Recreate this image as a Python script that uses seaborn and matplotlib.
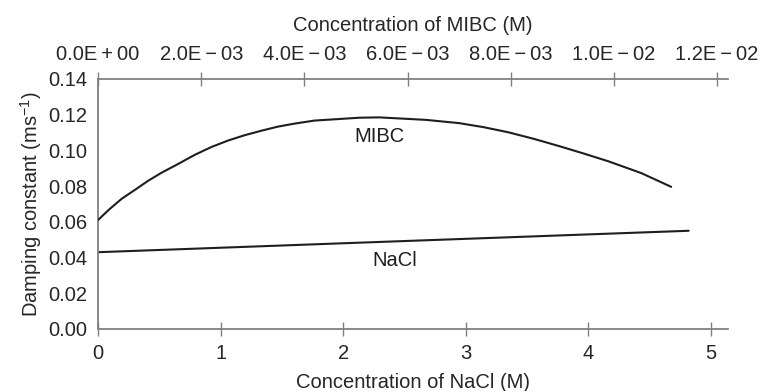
import matplotlib
matplotlib.use("Agg")
import matplotlib.pyplot as plt
import seaborn as sns

# MIBC curve (x on the top axis, M)
mibc_conc = [0.0, 0.000199, 0.000458, 0.000715, 0.000972, 0.001231, 0.001552,
             0.001874, 0.002197, 0.002518, 0.002841, 0.003163, 0.003484,
             0.003807, 0.004193, 0.005063, 0.005449, 0.006357, 0.006995,
             0.007478, 0.007961, 0.008445, 0.008928, 0.009411, 0.009894,
             0.010531, 0.011111]
mibc_damp = [0.0610, 0.0665, 0.0729, 0.0779, 0.0830, 0.0875, 0.0924,
             0.0975, 0.1019, 0.1055, 0.1085, 0.1110, 0.1133,
             0.1150, 0.1167, 0.1183, 0.1185, 0.1171, 0.1153,
             0.1130, 0.1101, 0.1065, 0.1025, 0.0983, 0.0939,
             0.0873, 0.0796]

# NaCl line (x on the bottom axis, M)
nacl_conc = [0.0, 2.4, 4.82]
nacl_damp = [0.043, 0.049, 0.055]

nacl_ticks = [0, 1, 2, 3, 4, 5]
mibc_ticks = [0.0, 0.002, 0.004, 0.006, 0.008, 0.010, 0.012]
mibc_ticklabels = ["0.0E\u2009+\u200900", "2.0E\u2009\u2212\u200903", "4.0E\u2009\u2212\u200903",
                   "6.0E\u2009\u2212\u200903", "8.0E\u2009\u2212\u200903", "1.0E\u2009\u2212\u200902",
                   "1.2E\u2009\u2212\u200902"]
y_ticks = [0.00, 0.02, 0.04, 0.06, 0.08, 0.10, 0.12, 0.14]

sns.set_style("white")
plt.rcParams['font.family'] = ['Liberation Sans', 'DejaVu Sans']
plt.rcParams['mathtext.fontset'] = 'custom'
plt.rcParams['mathtext.rm'] = 'Liberation Sans'
plt.rcParams['mathtext.it'] = 'Liberation Sans:italic'

spine_col = '#808080'
line_col = '#1e1e1e'
fs = 14.5

fig = plt.figure(figsize=(7.67, 3.91), dpi=100)
ax = fig.add_axes([0.1278, 0.1586, 0.8212, 0.6394])

sns.lineplot(x=nacl_conc, y=nacl_damp, ax=ax, color=line_col, lw=1.5, sort=False)
ax.set_xlim(0, 5.14)
ax.set_ylim(0, 0.14)
ax.set_xticks(nacl_ticks)
ax.set_yticks(y_ticks)
ax.set_yticklabels([f"{v:.2f}" for v in y_ticks])
ax.set_xlabel("Concentration of NaCl (M)", fontsize=fs, labelpad=7)
ax.set_ylabel("Damping constant (ms$^{-1}$)", fontsize=fs, labelpad=3)
ax.tick_params(axis='x', direction='inout', length=10, width=1, color=spine_col,
               labelsize=fs, pad=6)
ax.tick_params(axis='y', direction='inout', length=10, width=1, color=spine_col,
               labelsize=fs, pad=3)

ax2 = ax.twiny()
sns.lineplot(x=mibc_conc, y=mibc_damp, ax=ax2, color=line_col, lw=1.5, sort=False)
ax2.set_xlim(0, 0.01221)
ax2.set_ylim(0, 0.14)
ax2.set_xticks(mibc_ticks)
ax2.set_xticklabels(mibc_ticklabels)
ax2.set_xlabel("Concentration of MIBC (M)", fontsize=fs, labelpad=10)
ax2.tick_params(axis='x', direction='inout', length=10, width=1, color=spine_col,
                labelsize=fs, pad=6)

for a in (ax, ax2):
    a.spines['right'].set_visible(False)
    for s in a.spines.values():
        s.set_color(spine_col)
        s.set_linewidth(1.3)
ax.spines['top'].set_visible(False)
ax2.spines['bottom'].set_visible(False)
ax2.spines['left'].set_visible(False)

ax.text(2.3, 0.108, "MIBC", fontsize=fs, ha='center', va='center', color=line_col)
ax.text(2.42, 0.0385, "NaCl", fontsize=fs, ha='center', va='center', color=line_col)

fig.savefig("out.png", dpi=100)
